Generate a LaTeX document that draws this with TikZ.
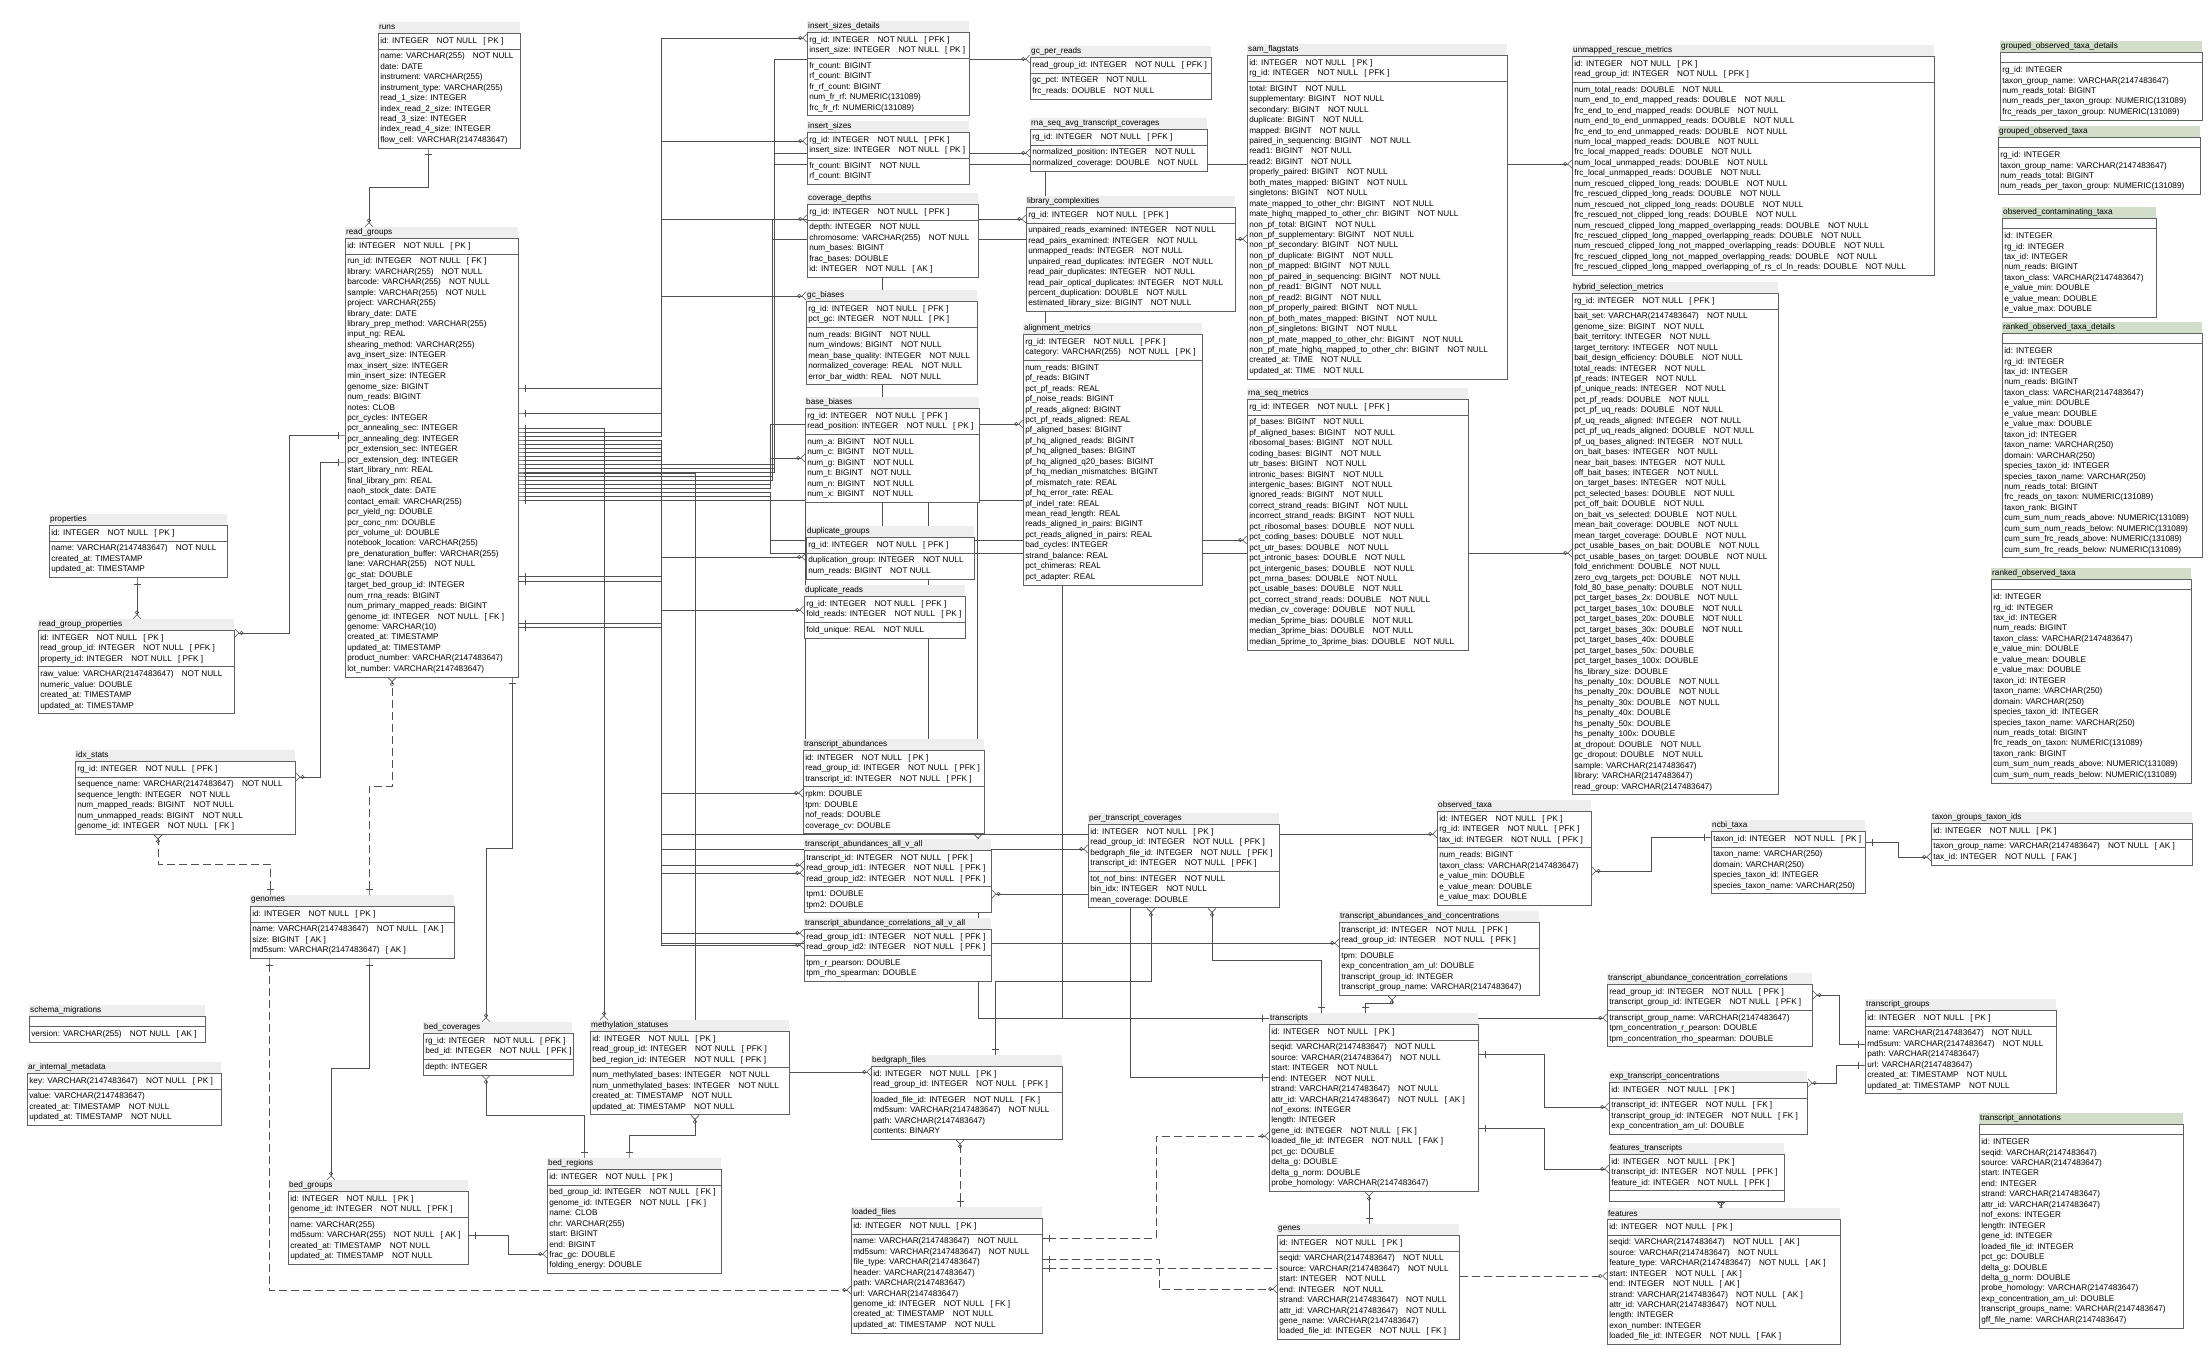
\documentclass[tikz,border=0pt]{standalone}
\usepackage{fontspec}
\setmainfont{Liberation Sans}
\usetikzlibrary{arrows.meta,shapes.multipart}

\definecolor{hdgray}{RGB}{238,238,238}
\definecolor{viewgreen}{RGB}{208,222,202}
\definecolor{lngray}{RGB}{80,80,80}

\pgfdeclarelayer{paper}
\pgfdeclarelayer{lines}
\pgfsetlayers{paper,lines,main}

\newcommand\NotNull{\quad NOT NULL}
\newcommand\Key[1]{\hspace{0.75em}[ #1 ]}
% [header style]{name}{x}{y of box top}{width}{title}{key rows}{other rows}
\newcommand\ertable[8][hd]{%
  \node[tbl, minimum width=#5pt] (#2) at (#3,#4)
    {\if\relax\detokenize{#7}\relax\else\strut#7\strut\fi
     \nodepart{two}\if\relax\detokenize{#8}\relax\else\strut#8\strut\fi};
  \pgfmathsetlengthmacro\hdw{#5pt-2pt}%
  \node[#1, text width=\hdw] (#2-t) at (#2.north west) {\mbox{#6}};
}

\begin{document}
\catcode`\_=12
\begin{tikzpicture}[x=1pt, y=-1pt, font=\fontsize{8.2}{10.45}\selectfont,
  tbl/.style={draw=black!62, fill=white, line width=0.7pt, anchor=north west,
              rectangle split, rectangle split parts=2,
              rectangle split part align={left,left},
              inner xsep=2pt, inner ysep=2.2pt, align=left},
  hd/.style={fill=hdgray, anchor=south west, inner xsep=1pt, inner ysep=0pt,
             minimum height=10.5pt, align=left},
  vhd/.style={hd, fill=viewgreen},
  ln/.style={draw=lngray, line width=0.6pt},
  fk/.style={ln, {Rectangle[length=6pt,width=0pt 1]Bar[width=7pt]}-{Circle[open,length=4pt,width=4pt]Straight Barb[reversed,length=4pt,width=8pt]}},
  nfk/.style={fk, dash pattern=on 8pt off 4pt}]

\useasboundingbox (0,0) rectangle (2209,1350);
\begin{pgfonlayer}{paper}
  \fill[white] (0,0) rectangle (2209,1350);
\end{pgfonlayer}

% left block
\ertable{runs}{378}{33}{142}{runs}
  {id: INTEGER\NotNull\Key{PK}}
  {name: VARCHAR(255)\NotNull\\date: DATE\\instrument: VARCHAR(255)\\instrument_type: VARCHAR(255)\\read_1_size: INTEGER\\index_read_2_size: INTEGER\\read_3_size: INTEGER\\index_read_4_size: INTEGER\\flow_cell: VARCHAR(2147483647)}
\ertable{rg}{345}{238}{173}{read_groups}
  {id: INTEGER\NotNull\Key{PK}}
  {run_id: INTEGER\NotNull\Key{FK}\\library: VARCHAR(255)\NotNull\\barcode: VARCHAR(255)\NotNull\\sample: VARCHAR(255)\NotNull\\project: VARCHAR(255)\\library_date: DATE\\library_prep_method: VARCHAR(255)\\input_ng: REAL\\shearing_method: VARCHAR(255)\\avg_insert_size: INTEGER\\max_insert_size: INTEGER\\min_insert_size: INTEGER\\genome_size: BIGINT\\num_reads: BIGINT\\notes: CLOB\\pcr_cycles: INTEGER\\pcr_annealing_sec: INTEGER\\pcr_annealing_deg: INTEGER\\pcr_extension_sec: INTEGER\\pcr_extension_deg: INTEGER\\start_library_nm: REAL\\final_library_pm: REAL\\naoh_stock_date: DATE\\contact_email: VARCHAR(255)\\pcr_yield_ng: DOUBLE\\pcr_conc_nm: DOUBLE\\pcr_volume_ul: DOUBLE\\notebook_location: VARCHAR(255)\\pre_denaturation_buffer: VARCHAR(255)\\lane: VARCHAR(255)\NotNull\\gc_stat: DOUBLE\\target_bed_group_id: INTEGER\\num_rrna_reads: BIGINT\\num_primary_mapped_reads: BIGINT\\genome_id: INTEGER\NotNull\Key{FK}\\genome: VARCHAR(10)\\created_at: TIMESTAMP\\updated_at: TIMESTAMP\\product_number: VARCHAR(2147483647)\\lot_number: VARCHAR(2147483647)}
\ertable{props}{49}{525}{178}{properties}
  {id: INTEGER\NotNull\Key{PK}}
  {name: VARCHAR(2147483647)\NotNull\\created_at: TIMESTAMP\\updated_at: TIMESTAMP}
\ertable{rgp}{38}{630}{196}{read_group_properties}
  {id: INTEGER\NotNull\Key{PK}\\read_group_id: INTEGER\NotNull\Key{PFK}\\property_id: INTEGER\NotNull\Key{PFK}}
  {raw_value: VARCHAR(2147483647)\NotNull\\numeric_value: DOUBLE\\created_at: TIMESTAMP\\updated_at: TIMESTAMP}
\ertable{idx}{75}{761}{220}{idx_stats}
  {rg_id: INTEGER\NotNull\Key{PFK}}
  {sequence_name: VARCHAR(2147483647)\NotNull\\sequence_length: INTEGER\NotNull\\num_mapped_reads: BIGINT\NotNull\\num_unmapped_reads: BIGINT\NotNull\\genome_id: INTEGER\NotNull\Key{FK}}
\ertable{genomes}{250}{906}{204}{genomes}
  {id: INTEGER\NotNull\Key{PK}}
  {name: VARCHAR(2147483647)\NotNull\Key{AK}\\size: BIGINT\Key{AK}\\md5sum: VARCHAR(2147483647)\Key{AK}}
\ertable{schema}{29}{1016}{176}{schema_migrations}
  {}
  {version: VARCHAR(255)\NotNull\Key{AK}}
\ertable{arim}{27}{1073}{194}{ar_internal_metadata}
  {key: VARCHAR(2147483647)\NotNull\Key{PK}}
  {value: VARCHAR(2147483647)\\created_at: TIMESTAMP\NotNull\\updated_at: TIMESTAMP\NotNull}
\ertable{bedcov}{423}{1033}{149}{bed_coverages}
  {rg_id: INTEGER\NotNull\Key{PFK}\\bed_id: INTEGER\NotNull\Key{PFK}}
  {depth: INTEGER}
\ertable{bedgrp}{288}{1191}{180}{bed_groups}
  {id: INTEGER\NotNull\Key{PK}\\genome_id: INTEGER\NotNull\Key{PFK}}
  {name: VARCHAR(255)\\md5sum: VARCHAR(255)\NotNull\Key{AK}\\created_at: TIMESTAMP\NotNull\\updated_at: TIMESTAMP\NotNull}
\ertable{bedreg}{547}{1169}{174}{bed_regions}
  {id: INTEGER\NotNull\Key{PK}}
  {bed_group_id: INTEGER\NotNull\Key{FK}\\genome_id: INTEGER\NotNull\Key{FK}\\name: CLOB\\chr: VARCHAR(255)\\start: BIGINT\\end: BIGINT\\frac_gc: DOUBLE\\folding_energy: DOUBLE}
\ertable{meth}{590}{1031}{199}{methylation_statuses}
  {id: INTEGER\NotNull\Key{PK}\\read_group_id: INTEGER\NotNull\Key{PFK}\\bed_region_id: INTEGER\NotNull\Key{PFK}}
  {num_methylated_bases: INTEGER\NotNull\\num_unmethylated_bases: INTEGER\NotNull\\created_at: TIMESTAMP\NotNull\\updated_at: TIMESTAMP\NotNull}
\ertable{bgf}{871}{1066}{191}{bedgraph_files}
  {id: INTEGER\NotNull\Key{PK}\\read_group_id: INTEGER\NotNull\Key{PFK}}
  {loaded_file_id: INTEGER\NotNull\Key{FK}\\md5sum: VARCHAR(2147483647)\NotNull\\path: VARCHAR(2147483647)\\contents: BINARY}
\ertable{lf}{851}{1218}{191}{loaded_files}
  {id: INTEGER\NotNull\Key{PK}}
  {name: VARCHAR(2147483647)\NotNull\\md5sum: VARCHAR(2147483647)\NotNull\\file_type: VARCHAR(2147483647)\\header: VARCHAR(2147483647)\\path: VARCHAR(2147483647)\\url: VARCHAR(2147483647)\\genome_id: INTEGER\NotNull\Key{FK}\\created_at: TIMESTAMP\NotNull\\updated_at: TIMESTAMP\NotNull}

% middle column of metrics
\ertable{isd}{807}{32}{162}{insert_sizes_details}
  {rg_id: INTEGER\NotNull\Key{PFK}\\insert_size: INTEGER\NotNull\Key{PK}}
  {fr_count: BIGINT\\rf_count: BIGINT\\fr_rf_count: BIGINT\\num_fr_rf: NUMERIC(131089)\\frc_fr_rf: NUMERIC(131089)}
\ertable{is}{807}{132}{162}{insert_sizes}
  {rg_id: INTEGER\NotNull\Key{PFK}\\insert_size: INTEGER\NotNull\Key{PK}}
  {fr_count: BIGINT\NotNull\\rf_count: BIGINT}
\ertable{cd}{807}{204}{171}{coverage_depths}
  {rg_id: INTEGER\NotNull\Key{PFK}}
  {depth: INTEGER\NotNull\\chromosome: VARCHAR(255)\NotNull\\num_bases: BIGINT\\frac_bases: DOUBLE\\id: INTEGER\NotNull\Key{AK}}
\ertable{gcb}{806}{301}{171}{gc_biases}
  {rg_id: INTEGER\NotNull\Key{PFK}\\pct_gc: INTEGER\NotNull\Key{PK}}
  {num_reads: BIGINT\NotNull\\num_windows: BIGINT\NotNull\\mean_base_quality: INTEGER\NotNull\\normalized_coverage: REAL\NotNull\\error_bar_width: REAL\NotNull}
\ertable{bb}{805}{408}{174}{base_biases}
  {rg_id: INTEGER\NotNull\Key{PFK}\\read_position: INTEGER\NotNull\Key{PK}}
  {num_a: BIGINT\NotNull\\num_c: BIGINT\NotNull\\num_g: BIGINT\NotNull\\num_t: BIGINT\NotNull\\num_n: BIGINT\NotNull\\num_x: BIGINT\NotNull}
\ertable{dupg}{806}{537}{168}{duplicate_groups}
  {rg_id: INTEGER\NotNull\Key{PFK}}
  {duplication_group: INTEGER\NotNull\\num_reads: BIGINT\NotNull}
\ertable{dupr}{804}{596}{161}{duplicate_reads}
  {rg_id: INTEGER\NotNull\Key{PFK}\\fold_reads: INTEGER\NotNull\Key{PK}}
  {fold_unique: REAL\NotNull}
\ertable{tab}{803}{750}{181}{transcript_abundances}
  {id: INTEGER\NotNull\Key{PK}\\read_group_id: INTEGER\NotNull\Key{PFK}\\transcript_id: INTEGER\NotNull\Key{PFK}}
  {rpkm: DOUBLE\\tpm: DOUBLE\\nof_reads: DOUBLE\\coverage_cv: DOUBLE}
\ertable{taava}{804}{850}{187}{transcript_abundances_all_v_all}
  {transcript_id: INTEGER\NotNull\Key{PFK}\\read_group_id1: INTEGER\NotNull\Key{PFK}\\read_group_id2: INTEGER\NotNull\Key{PFK}}
  {tpm1: DOUBLE\\tpm2: DOUBLE}
\ertable{tacorr}{804}{929}{187}{transcript_abundance_correlations_all_v_all}
  {read_group_id1: INTEGER\NotNull\Key{PFK}\\read_group_id2: INTEGER\NotNull\Key{PFK}}
  {tpm_r_pearson: DOUBLE\\tpm_rho_spearman: DOUBLE}

\ertable{gcpr}{1030}{57}{181}{gc_per_reads}
  {read_group_id: INTEGER\NotNull\Key{PFK}}
  {gc_pct: INTEGER\NotNull\\frc_reads: DOUBLE\NotNull}
\ertable{rsatc}{1030}{129}{177}{rna_seq_avg_transcript_coverages}
  {rg_id: INTEGER\NotNull\Key{PFK}}
  {normalized_position: INTEGER\NotNull\\normalized_coverage: DOUBLE\NotNull}
\ertable{lc}{1026}{207}{209}{library_complexities}
  {rg_id: INTEGER\NotNull\Key{PFK}}
  {unpaired_reads_examined: INTEGER\NotNull\\read_pairs_examined: INTEGER\NotNull\\unmapped_reads: INTEGER\NotNull\\unpaired_read_duplicates: INTEGER\NotNull\\read_pair_duplicates: INTEGER\NotNull\\read_pair_optical_duplicates: INTEGER\NotNull\\percent_duplication: DOUBLE\NotNull\\estimated_library_size: BIGINT\NotNull}
\ertable{am}{1023}{334}{179}{alignment_metrics}
  {rg_id: INTEGER\NotNull\Key{PFK}\\category: VARCHAR(255)\NotNull\Key{PK}}
  {num_reads: BIGINT\\pf_reads: BIGINT\\pct_pf_reads: REAL\\pf_noise_reads: BIGINT\\pf_reads_aligned: BIGINT\\pct_pf_reads_aligned: REAL\\pf_aligned_bases: BIGINT\\pf_hq_aligned_reads: BIGINT\\pf_hq_aligned_bases: BIGINT\\pf_hq_aligned_q20_bases: BIGINT\\pf_hq_median_mismatches: BIGINT\\pf_mismatch_rate: REAL\\pf_hq_error_rate: REAL\\pf_indel_rate: REAL\\mean_read_length: REAL\\reads_aligned_in_pairs: BIGINT\\pct_reads_aligned_in_pairs: REAL\\bad_cycles: INTEGER\\strand_balance: REAL\\pct_chimeras: REAL\\pct_adapter: REAL}
\ertable{sf}{1247}{55}{260}{sam_flagstats}
  {id: INTEGER\NotNull\Key{PK}\\rg_id: INTEGER\NotNull\Key{PFK}}
  {total: BIGINT\NotNull\\supplementary: BIGINT\NotNull\\secondary: BIGINT\NotNull\\duplicate: BIGINT\NotNull\\mapped: BIGINT\NotNull\\paired_in_sequencing: BIGINT\NotNull\\read1: BIGINT\NotNull\\read2: BIGINT\NotNull\\properly_paired: BIGINT\NotNull\\both_mates_mapped: BIGINT\NotNull\\singletons: BIGINT\NotNull\\mate_mapped_to_other_chr: BIGINT\NotNull\\mate_highq_mapped_to_other_chr: BIGINT\NotNull\\non_pf_total: BIGINT\NotNull\\non_pf_supplementary: BIGINT\NotNull\\non_pf_secondary: BIGINT\NotNull\\non_pf_duplicate: BIGINT\NotNull\\non_pf_mapped: BIGINT\NotNull\\non_pf_paired_in_sequencing: BIGINT\NotNull\\non_pf_read1: BIGINT\NotNull\\non_pf_read2: BIGINT\NotNull\\non_pf_properly_paired: BIGINT\NotNull\\non_pf_both_mates_mapped: BIGINT\NotNull\\non_pf_singletons: BIGINT\NotNull\\non_pf_mate_mapped_to_other_chr: BIGINT\NotNull\\non_pf_mate_highq_mapped_to_other_chr: BIGINT\NotNull\\created_at: TIME\NotNull\\updated_at: TIME\NotNull}
\ertable{rsm}{1247}{399}{221}{rna_seq_metrics}
  {rg_id: INTEGER\NotNull\Key{PFK}}
  {pf_bases: BIGINT\NotNull\\pf_aligned_bases: BIGINT\NotNull\\ribosomal_bases: BIGINT\NotNull\\coding_bases: BIGINT\NotNull\\utr_bases: BIGINT\NotNull\\intronic_bases: BIGINT\NotNull\\intergenic_bases: BIGINT\NotNull\\ignored_reads: BIGINT\NotNull\\correct_strand_reads: BIGINT\NotNull\\incorrect_strand_reads: BIGINT\NotNull\\pct_ribosomal_bases: DOUBLE\NotNull\\pct_coding_bases: DOUBLE\NotNull\\pct_utr_bases: DOUBLE\NotNull\\pct_intronic_bases: DOUBLE\NotNull\\pct_intergenic_bases: DOUBLE\NotNull\\pct_mrna_bases: DOUBLE\NotNull\\pct_usable_bases: DOUBLE\NotNull\\pct_correct_strand_reads: DOUBLE\NotNull\\median_cv_coverage: DOUBLE\NotNull\\median_5prime_bias: DOUBLE\NotNull\\median_3prime_bias: DOUBLE\NotNull\\median_5prime_to_3prime_bias: DOUBLE\NotNull}
\ertable{urm}{1572}{56}{362}{unmapped_rescue_metrics}
  {id: INTEGER\NotNull\Key{PK}\\read_group_id: INTEGER\NotNull\Key{PFK}}
  {num_total_reads: DOUBLE\NotNull\\num_end_to_end_mapped_reads: DOUBLE\NotNull\\frc_end_to_end_mapped_reads: DOUBLE\NotNull\\num_end_to_end_unmapped_reads: DOUBLE\NotNull\\frc_end_to_end_unmapped_reads: DOUBLE\NotNull\\num_local_mapped_reads: DOUBLE\NotNull\\frc_local_mapped_reads: DOUBLE\NotNull\\num_local_unmapped_reads: DOUBLE\NotNull\\frc_local_unmapped_reads: DOUBLE\NotNull\\num_rescued_clipped_long_reads: DOUBLE\NotNull\\frc_rescued_clipped_long_reads: DOUBLE\NotNull\\num_rescued_not_clipped_long_reads: DOUBLE\NotNull\\frc_rescued_not_clipped_long_reads: DOUBLE\NotNull\\num_rescued_clipped_long_mapped_overlapping_reads: DOUBLE\NotNull\\frc_rescued_clipped_long_mapped_overlapping_reads: DOUBLE\NotNull\\num_rescued_clipped_long_not_mapped_overlapping_reads: DOUBLE\NotNull\\frc_rescued_clipped_long_not_mapped_overlapping_reads: DOUBLE\NotNull\\frc_rescued_clipped_long_mapped_overlapping_of_rs_cl_ln_reads: DOUBLE\NotNull}
\ertable{hsm}{1572}{293}{206}{hybrid_selection_metrics}
  {rg_id: INTEGER\NotNull\Key{PFK}}
  {bait_set: VARCHAR(2147483647)\NotNull\\genome_size: BIGINT\NotNull\\bait_territory: INTEGER\NotNull\\target_territory: INTEGER\NotNull\\bait_design_efficiency: DOUBLE\NotNull\\total_reads: INTEGER\NotNull\\pf_reads: INTEGER\NotNull\\pf_unique_reads: INTEGER\NotNull\\pct_pf_reads: DOUBLE\NotNull\\pct_pf_uq_reads: DOUBLE\NotNull\\pf_uq_reads_aligned: INTEGER\NotNull\\pct_pf_uq_reads_aligned: DOUBLE\NotNull\\pf_uq_bases_aligned: INTEGER\NotNull\\on_bait_bases: INTEGER\NotNull\\near_bait_bases: INTEGER\NotNull\\off_bait_bases: INTEGER\NotNull\\on_target_bases: INTEGER\NotNull\\pct_selected_bases: DOUBLE\NotNull\\pct_off_bait: DOUBLE\NotNull\\on_bait_vs_selected: DOUBLE\NotNull\\mean_bait_coverage: DOUBLE\NotNull\\mean_target_coverage: DOUBLE\NotNull\\pct_usable_bases_on_bait: DOUBLE\NotNull\\pct_usable_bases_on_target: DOUBLE\NotNull\\fold_enrichment: DOUBLE\NotNull\\zero_cvg_targets_pct: DOUBLE\NotNull\\fold_80_base_penalty: DOUBLE\NotNull\\pct_target_bases_2x: DOUBLE\NotNull\\pct_target_bases_10x: DOUBLE\NotNull\\pct_target_bases_20x: DOUBLE\NotNull\\pct_target_bases_30x: DOUBLE\NotNull\\pct_target_bases_40x: DOUBLE\\pct_target_bases_50x: DOUBLE\\pct_target_bases_100x: DOUBLE\\hs_library_size: DOUBLE\\hs_penalty_10x: DOUBLE\NotNull\\hs_penalty_20x: DOUBLE\NotNull\\hs_penalty_30x: DOUBLE\NotNull\\hs_penalty_40x: DOUBLE\\hs_penalty_50x: DOUBLE\\hs_penalty_100x: DOUBLE\\at_dropout: DOUBLE\NotNull\\gc_dropout: DOUBLE\NotNull\\sample: VARCHAR(2147483647)\\library: VARCHAR(2147483647)\\read_group: VARCHAR(2147483647)}

% views
\ertable[vhd]{gotd}{2000}{52}{202}{grouped_observed_taxa_details}
  {}
  {rg_id: INTEGER\\taxon_group_name: VARCHAR(2147483647)\\num_reads_total: BIGINT\\num_reads_per_taxon_group: NUMERIC(131089)\\frc_reads_per_taxon_group: NUMERIC(131089)}
\ertable[vhd]{got}{1998}{137}{202}{grouped_observed_taxa}
  {}
  {rg_id: INTEGER\\taxon_group_name: VARCHAR(2147483647)\\num_reads_total: BIGINT\\num_reads_per_taxon_group: NUMERIC(131089)}
\ertable[vhd]{oct}{2002}{218}{154}{observed_contaminating_taxa}
  {}
  {id: INTEGER\\rg_id: INTEGER\\tax_id: INTEGER\\num_reads: BIGINT\\taxon_class: VARCHAR(2147483647)\\e_value_min: DOUBLE\\e_value_mean: DOUBLE\\e_value_max: DOUBLE}
\ertable[vhd]{rotd}{2002}{333}{200}{ranked_observed_taxa_details}
  {}
  {id: INTEGER\\rg_id: INTEGER\\tax_id: INTEGER\\num_reads: BIGINT\\taxon_class: VARCHAR(2147483647)\\e_value_min: DOUBLE\\e_value_mean: DOUBLE\\e_value_max: DOUBLE\\taxon_id: INTEGER\\taxon_name: VARCHAR(250)\\domain: VARCHAR(250)\\species_taxon_id: INTEGER\\species_taxon_name: VARCHAR(250)\\num_reads_total: BIGINT\\frc_reads_on_taxon: NUMERIC(131089)\\taxon_rank: BIGINT\\cum_sum_num_reads_above: NUMERIC(131089)\\cum_sum_num_reads_below: NUMERIC(131089)\\cum_sum_frc_reads_above: NUMERIC(131089)\\cum_sum_frc_reads_below: NUMERIC(131089)}
\ertable[vhd]{rot}{1991}{579}{200}{ranked_observed_taxa}
  {}
  {id: INTEGER\\rg_id: INTEGER\\tax_id: INTEGER\\num_reads: BIGINT\\taxon_class: VARCHAR(2147483647)\\e_value_min: DOUBLE\\e_value_mean: DOUBLE\\e_value_max: DOUBLE\\taxon_id: INTEGER\\taxon_name: VARCHAR(250)\\domain: VARCHAR(250)\\species_taxon_id: INTEGER\\species_taxon_name: VARCHAR(250)\\num_reads_total: BIGINT\\frc_reads_on_taxon: NUMERIC(131089)\\taxon_rank: BIGINT\\cum_sum_num_reads_above: NUMERIC(131089)\\cum_sum_num_reads_below: NUMERIC(131089)}
\ertable[vhd]{tann}{1979}{1124}{204}{transcript_annotations}
  {}
  {id: INTEGER\\seqid: VARCHAR(2147483647)\\source: VARCHAR(2147483647)\\start: INTEGER\\end: INTEGER\\strand: VARCHAR(2147483647)\\attr_id: VARCHAR(2147483647)\\nof_exons: INTEGER\\length: INTEGER\\gene_id: INTEGER\\loaded_file_id: INTEGER\\pct_gc: DOUBLE\\delta_g: DOUBLE\\delta_g_norm: DOUBLE\\probe_homology: VARCHAR(2147483647)\\exp_concentration_am_ul: DOUBLE\\transcript_groups_name: VARCHAR(2147483647)\\gff_file_name: VARCHAR(2147483647)}

% taxa and transcripts
\ertable{ncbi}{1711}{831}{154}{ncbi_taxa}
  {taxon_id: INTEGER\NotNull\Key{PK}}
  {taxon_name: VARCHAR(250)\\domain: VARCHAR(250)\\species_taxon_id: INTEGER\\species_taxon_name: VARCHAR(250)}
\ertable{tgti}{1931}{823}{261}{taxon_groups_taxon_ids}
  {id: INTEGER\NotNull\Key{PK}}
  {taxon_group_name: VARCHAR(2147483647)\NotNull\Key{AK}\\tax_id: INTEGER\NotNull\Key{FAK}}
\ertable{ot}{1437}{811}{154}{observed_taxa}
  {id: INTEGER\NotNull\Key{PK}\\rg_id: INTEGER\NotNull\Key{PFK}\\tax_id: INTEGER\NotNull\Key{PFK}}
  {num_reads: BIGINT\\taxon_class: VARCHAR(2147483647)\\e_value_min: DOUBLE\\e_value_mean: DOUBLE\\e_value_max: DOUBLE}
\ertable{ptc}{1088}{824}{191}{per_transcript_coverages}
  {id: INTEGER\NotNull\Key{PK}\\read_group_id: INTEGER\NotNull\Key{PFK}\\bedgraph_file_id: INTEGER\NotNull\Key{PFK}\\transcript_id: INTEGER\NotNull\Key{PFK}}
  {tot_nof_bins: INTEGER\NotNull\\bin_idx: INTEGER\NotNull\\mean_coverage: DOUBLE}
\ertable{taac}{1339}{922}{200}{transcript_abundances_and_concentrations}
  {transcript_id: INTEGER\NotNull\Key{PFK}\\read_group_id: INTEGER\NotNull\Key{PFK}}
  {tpm: DOUBLE\\exp_concentration_am_ul: DOUBLE\\transcript_group_id: INTEGER\\transcript_group_name: VARCHAR(2147483647)}
\ertable{tr}{1269}{1024}{209}{transcripts}
  {id: INTEGER\NotNull\Key{PK}}
  {seqid: VARCHAR(2147483647)\NotNull\\source: VARCHAR(2147483647)\NotNull\\start: INTEGER\NotNull\\end: INTEGER\NotNull\\strand: VARCHAR(2147483647)\NotNull\\attr_id: VARCHAR(2147483647)\NotNull\Key{AK}\\nof_exons: INTEGER\\length: INTEGER\\gene_id: INTEGER\NotNull\Key{FK}\\loaded_file_id: INTEGER\NotNull\Key{FAK}\\pct_gc: DOUBLE\\delta_g: DOUBLE\\delta_g_norm: DOUBLE\\probe_homology: VARCHAR(2147483647)}
\ertable{genes}{1277}{1235}{182}{genes}
  {id: INTEGER\NotNull\Key{PK}}
  {seqid: VARCHAR(2147483647)\NotNull\\source: VARCHAR(2147483647)\NotNull\\start: INTEGER\NotNull\\end: INTEGER\NotNull\\strand: VARCHAR(2147483647)\NotNull\\attr_id: VARCHAR(2147483647)\NotNull\\gene_name: VARCHAR(2147483647)\\loaded_file_id: INTEGER\NotNull\Key{FK}}
\ertable{tacc}{1607}{984}{205}{transcript_abundance_concentration_correlations}
  {read_group_id: INTEGER\NotNull\Key{PFK}\\transcript_group_id: INTEGER\NotNull\Key{PFK}}
  {transcript_group_name: VARCHAR(2147483647)\\tpm_concentration_r_pearson: DOUBLE\\tpm_concentration_rho_spearman: DOUBLE}
\ertable{etcn}{1609}{1082}{198}{exp_transcript_concentrations}
  {id: INTEGER\NotNull\Key{PK}}
  {transcript_id: INTEGER\NotNull\Key{FK}\\transcript_group_id: INTEGER\NotNull\Key{FK}\\exp_concentration_am_ul: DOUBLE}
\ertable{ft}{1609}{1154}{175}{features_transcripts}
  {id: INTEGER\NotNull\Key{PK}\\transcript_id: INTEGER\NotNull\Key{PFK}\\feature_id: INTEGER\NotNull\Key{PFK}}
  {}
\ertable{feat}{1607}{1219}{233}{features}
  {id: INTEGER\NotNull\Key{PK}}
  {seqid: VARCHAR(2147483647)\NotNull\Key{AK}\\source: VARCHAR(2147483647)\NotNull\\feature_type: VARCHAR(2147483647)\NotNull\Key{AK}\\start: INTEGER\NotNull\Key{AK}\\end: INTEGER\NotNull\Key{AK}\\strand: VARCHAR(2147483647)\NotNull\Key{AK}\\attr_id: VARCHAR(2147483647)\NotNull\\length: INTEGER\\exon_number: INTEGER\\loaded_file_id: INTEGER\NotNull\Key{FAK}}
\ertable{tg}{1865}{1010}{191}{transcript_groups}
  {id: INTEGER\NotNull\Key{PK}}
  {name: VARCHAR(2147483647)\NotNull\\md5sum: VARCHAR(2147483647)\NotNull\\path: VARCHAR(2147483647)\\url: VARCHAR(2147483647)\\created_at: TIMESTAMP\NotNull\\updated_at: TIMESTAMP\NotNull}

\begin{pgfonlayer}{lines}
% runs, properties, genomes
\draw[fk] (runs.south -| 428,0) |- (369,187) -- (rg-t.north -| 369,0);
\draw[fk] (props.south -| 137,0) -- (rgp-t.north -| 137,0);
\draw[fk] (rg.west |- 0,435) -| (289,633) -- (rgp.east |- 0,633);
\draw[fk] (rg.west |- 0,462) -| (320,777) -- (idx.east |- 0,777);
\draw[nfk] (genomes-t.north -| 270,0) |- (158,864) -- (idx.south -| 158,0);
\draw[nfk] (genomes-t.north -| 369,0) |- (392,786) -- (rg.south -| 392,0);
\draw[fk] (genomes.south -| 369,0) |- (331,1068) -- (bedgrp-t.north -| 331,0);
\draw[nfk] (genomes.south -| 269,0) |- (lf.west |- 0,1290);
\draw[fk] (rg.south -| 512,0) |- (486,848) -- (bedcov-t.north -| 486,0);
\draw[fk] (bedgrp.east |- 0,1235) -| (508,1254) -- (bedreg.west |- 0,1254);
\draw[fk] (bedreg-t.north -| 584,0) |- (486,1115) -- (bedcov.south -| 486,0);
\draw[fk] (bedreg-t.north -| 629,0) |- (695,1135) -- (meth.south -| 695,0);
\draw[fk] (rg.east |- 0,428) -| (meth-t.north -| 604,0);
\draw[fk] (rg.east |- 0,473) -| (695,1072) -- (bgf.west |- 0,1072);
\draw[nfk] (lf-t.north -| 960,0) -- (bgf.south -| 960,0);

% read_groups to the metric tables
\draw[fk] (rg.east |- 0,388) -| (661,38) -- (isd.west |- 0,38);
\draw[fk] (rg.east |- 0,413) -| (661,141) -- (is.west |- 0,141);
\draw[fk] (rg.east |- 0,432) -| (661,219) -- (cd.west |- 0,219);
\draw[fk] (rg.east |- 0,436) -| (661,296) -- (gcb-t.west |- 0,296);
\draw[fk] (rg.east |- 0,440) -| (661,557) -- (dupg.west |- 0,557);
\draw[fk] (rg.east |- 0,444) -| (661,610) -- (dupr.west |- 0,610);
\draw[fk] (rg.east |- 0,448) -| (661,793) -- (tab.west |- 0,793);
\draw[fk] (rg.east |- 0,452) -| (661,943) -- (taac.west |- 0,943);
\draw[fk] (rg.east |- 0,456) -| (661,834) -- (ot.west |- 0,834);
\draw[fk] (rg.east |- 0,460) -| (661,849) -- (ptc.west |- 0,849);
\draw[fk] (rg.east |- 0,576) -| (661,865) -- (taava.west |- 0,865);
\draw[fk] (rg.east |- 0,581) -| (661,873) -- (taava.west |- 0,873);
\draw[fk] (rg.east |- 0,623) -| (661,933) -- (tacorr.west |- 0,933);
\draw[fk] (rg.east |- 0,627) -| (661,945) -- (tacorr.west |- 0,945);
\draw[fk] (rg.east |- 0,464) -| (774,59) -- (gcpr.west |- 0,59);
\draw[fk] (rg.east |- 0,468) -| (774,153) -- (rsatc.west |- 0,153);
\draw[fk] (rg.east |- 0,472) -| (774,164) -- (urm.west |- 0,164);
\draw[fk] (rg.east |- 0,476) -| (772,219) -- (lc.west |- 0,219);
\draw[fk] (rg.east |- 0,480) -| (772,239) -- (sf.west |- 0,239);
\draw[fk] (rg.east |- 0,484) -| (770,424) -- (am.west |- 0,424);
\draw[fk] (rg.east |- 0,488) -| (770,458) -- (bb.west |- 0,458);
\draw[fk] (rg.east |- 0,492) -| (770,540) -- (rsm.west |- 0,540);
\draw[fk] (rg.east |- 0,496) -| (770,553) -- (hsm.west |- 0,553);
\draw[fk] (rg.east |- 0,500) -| (1062,1018) -- (tacc.west |- 0,1018);

% lines passing behind the metric tables
\draw[ln] (cd.south -| 882,0) -- (dupg-t.north -| 882,0);
\draw[ln] (bb.south -| 928,0) -- (tab-t.north -| 928,0);
\draw[ln] (bb.south -| 977,0) -- (tab-t.north -| 977,0);
\draw[ln] (bb.south west) -- (bb.south west |- tab-t.north);
\draw[ln] (rsatc.south -| 1045,0) -- (am-t.north -| 1045,0);

% transcripts and files
\draw[fk] (tr-t.west |- 0,1018) -| (tab.south -| 978,0);
\draw[fk] (tr.west |- 0,1077) -| (1130,894) -- (taava.east |- 0,894);
\draw[fk] (tr-t.north -| 1365,0) |- (1392,1003) -- (taac.south -| 1392,0);
\draw[fk] (tr-t.north -| 1321,0) |- (1212,960) -- (ptc.south -| 1212,0);
\draw[fk] (bgf-t.north -| 995,0) |- (1151,981) -- (ptc.south -| 1151,0);
\draw[nfk] (lf.east |- 0,1238) -| (1156,1136) -- (tr.west |- 0,1136);
\draw[nfk] (lf.east |- 0,1259) -| (1159,1289) -- (genes.west |- 0,1289);
\draw[nfk] (lf.east |- 0,1268) -- (1400,1268) |- (feat.west |- 0,1276);
\draw[fk] (genes-t.north -| 1369,0) -- (tr.south -| 1369,0);
\draw[fk] (tr.east |- 0,1054) -| (1544,1107) -- (etcn.west |- 0,1107);
\draw[fk] (tr.east |- 0,1128) -| (1544,1169) -- (ft.west |- 0,1169);
\draw[fk] (feat-t.north -| 1721,0) -- (ft.south -| 1721,0);
\draw[fk] (tg.west |- 0,1044) -| (1839,995) -- (tacc.east |- 0,995);
\draw[fk] (tg.west |- 0,1065) -| (1836,1083) -- (etcn.east |- 0,1083);

% taxa
\draw[fk] (ncbi.west |- 0,837) -| (1651,871) -- (ot.east |- 0,871);
\draw[fk] (ncbi.east |- 0,842) -| (1898,857) -- (tgti.west |- 0,857);
\end{pgfonlayer}
\end{tikzpicture}
\end{document}
